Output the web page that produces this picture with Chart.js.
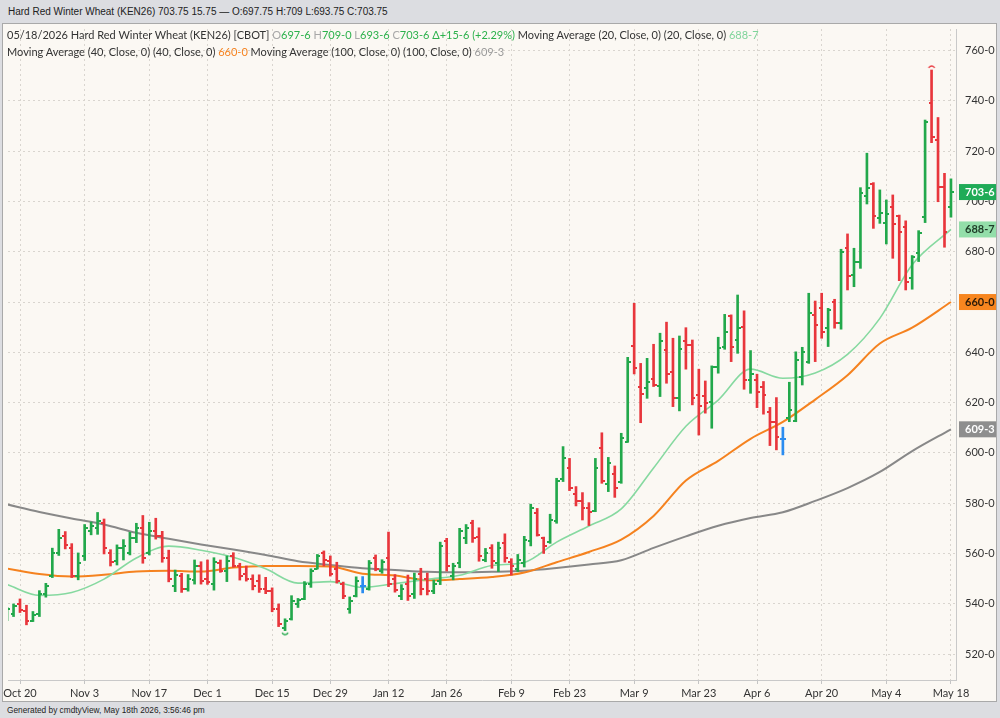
<!DOCTYPE html>
<html lang="en">
<head>
<meta charset="utf-8">
<title>Hard Red Winter Wheat (KEN26)</title>
<script src="https://cdn.jsdelivr.net/npm/chart.js@4.4.1/dist/chart.umd.min.js"></script>
<style>
  html, body { margin: 0; padding: 0; }
  body { width: 1000px; height: 718px; background: #dcdde1; position: relative; overflow: hidden; }
  #head { position: absolute; left: 8px; top: 6px; font: 10px "Liberation Sans", Arial, sans-serif; color: #222; white-space: nowrap; }
  #frame { position: absolute; left: 2px; top: 23px; width: 995px; height: 679px; background: #fbf8f3; border: 1px solid #a9a9a9; box-sizing: border-box; }
  #chart { position: absolute; left: 3px; top: 24px; }
  #legend { position: absolute; left: 7px; top: 26px; font: 11px Lato, sans-serif; line-height: 17px; color: #333; white-space: nowrap; }
  #foot { position: absolute; left: 7px; top: 705px; font: 8.3px "Liberation Sans", Arial, sans-serif; color: #222; white-space: nowrap; }
  .lbl { color: #a8a8a8; }
  .up { color: #2cb14c; }
  .m20 { color: #7fd49a; }
  .m40 { color: #f5821f; }
  .m100 { color: #9a9a9a; }
</style>
</head>
<body>
<div id="head"></div>
<div id="frame"></div>
<canvas id="chart" width="993" height="677"></canvas>
<div id="legend"><div id="l1"></div><div id="l2"></div></div>
<div id="foot">Generated by cmdtyView, May 18th 2026, 3:56:46 pm</div>
<script>
// session index 0 = Oct 20; two sessions before that are on screen
const FIRST_BAR = -2;

const opens = [
  535, 536, 540, 537, 533, 536, 544, 551, 560, 567, 562, 551, 559, 569, 570, 572, 560, 557, 562, 560,
  566, 570, 560, 569, 567, 558, 547, 551, 546, 549.5, 555, 550, 548, 556, 553, 559, 555, 552, 550, 549,
  546, 545, 538, 530.5, 534, 540, 542, 548, 554, 560, 557, 554, 548, 538, 543, 547, 546, 558, 553, 558,
  550, 543, 548, 544, 552, 550, 545, 549, 565, 551, 556, 566, 572, 566.5, 557.5, 562, 556, 564, 556.5, 554,
  556.3, 565, 576, 566, 564.5, 573, 589.5, 594, 583.5, 581, 578, 577, 602, 587.5, 591.5, 588.5, 604.5, 642.7, 626.4, 626,
  629.3, 626.6, 641, 632.3, 621.7, 644.5, 643, 623, 622.7, 620.4, 634.1, 642.3, 654.5, 644.9, 650, 629, 629, 626.4, 616.4, 612.4,
  605.5, 614, 612.8, 630, 636, 655, 657.5, 649.5, 660, 651.5, 681.4, 670.8, 676, 702, 707, 693.5, 691.6, 698, 694.2, 690,
  669.5, 679.4, 694, 739, 724.5, 705.9, 697.75
];
const highs = [
  538.6, 539.9, 541.9, 539.4, 536.9, 545.2, 548.1, 562.1, 569.6, 568.7, 563.9, 560.2, 571.5, 572.5, 576.3, 573.7, 561.5, 563.4, 565.5, 568.4,
  572.0, 575.1, 572.4, 574.0, 568.8, 561.3, 553.4, 552.1, 551.6, 557.4, 556.7, 557.4, 558.3, 557.4, 559.0, 560.3, 556.1, 555, 551.5, 551.5,
  550.5, 546.3, 539.9, 534, 543.2, 542.1, 548.8, 553.9, 559.6, 561, 559, 556.5, 548.6, 542.7, 550.7, 550.8, 557.2, 559.4, 557.5, 568.5,
  551.6, 547.6, 551.4, 552.2, 554.1, 552.2, 549.4, 564.5, 566.0, 556.1, 570.0, 571.5, 573.2, 570.2, 562, 563.5, 564.5, 567.8, 557.9, 559.6,
  566.8, 579.6, 577.9, 566.5, 575.6, 589.9, 602.5, 597.8, 586.6, 584.2, 580.2, 597.8, 608, 598.2, 594.8, 607.8, 638, 659.5, 635.6, 637.6,
  643.2, 647.6, 652.0, 645.6, 646.5, 649.8, 644.9, 633.3, 628.6, 634.6, 646.0, 655.1, 654.9, 662.8, 656.5, 640.7, 631.3, 628.4, 618.1, 622.0,
  610.2, 628.1, 640.2, 642, 663.5, 660.4, 663.5, 657.5, 661.1, 681, 687.1, 681.4, 705.5, 719.2, 707.5, 704.6, 700.6, 702.6, 694.6, 692.3,
  678.5, 688.4, 732.4, 752.3, 733.4, 711.2, 709
];
const lows = [
  533.3, 534.9, 536.5, 531.6, 532.9, 534.9, 542.6, 550.4, 559.2, 561.8, 550.4, 549.5, 557.2, 567.4, 567.6, 559.8, 555.0, 555.4, 557.4, 559.4,
  564.3, 556.1, 559.4, 565.7, 556.5, 548.7, 544.8, 544.5, 545.0, 547.8, 547.8, 547.7, 545.4, 552.5, 548.8, 554.5, 549.4, 549, 545.5, 544.5,
  544, 536.8, 530.9, 529.3, 533.5, 538.5, 541.6, 546.5, 553.8, 555, 551, 548.2, 542, 536.2, 542.7, 544.3, 545.4, 553.1, 552.1, 546.8,
  544.6, 541.6, 541.3, 542.1, 543.5, 543.5, 544.0, 547.6, 553, 549.5, 554.3, 563.9, 564.4, 556.9, 556.7, 554.1, 552.8, 556.5, 551.4, 552.8,
  554.6, 563, 566.9, 560, 564, 572, 588.6, 585.0, 578.9, 573.3, 571.1, 576.6, 587.9, 584.6, 582.3, 587.9, 604.2, 631.4, 612.0, 621.7,
  626.4, 622.4, 627.7, 618.4, 616.7, 633.3, 619.1, 607.1, 615.8, 609.8, 631.7, 641.2, 636.3, 639.6, 625.3, 623.7, 618.0, 615.4, 602.9, 601.2,
  599.2, 612.4, 612.4, 627, 635.6, 636.3, 645.6, 642.3, 649.6, 649.2, 664.8, 666.1, 673.4, 699, 689.3, 691.3, 683.1, 677.4, 668.5, 664.8,
  665.1, 676.1, 691.6, 723.4, 699.9, 681.8, 693.75
];
const closes = [
  538, 539, 537.5, 533, 535.5, 544, 547, 560, 566, 563.5, 551, 556, 570, 571, 573, 562, 556.5, 562, 563, 566,
  570, 558, 569, 567, 558, 550, 551.5, 546, 550, 555, 549, 548.5, 556.5, 553, 557, 555, 551, 550, 547, 546,
  545, 538, 532, 533, 541, 541.5, 548, 553, 559, 557.5, 552, 549, 543, 541, 549, 547, 556, 554, 556.5, 548,
  545.5, 546, 543, 550, 546, 545, 548, 563, 555, 555, 569, 570, 566, 559, 560, 557, 562, 558, 555, 557.5,
  565.5, 578, 567.5, 563, 573.5, 589, 598, 586, 581, 578, 576.5, 594, 589, 596, 586, 605.8, 636.3, 633.7, 623.5, 628,
  627, 644.5, 631.3, 621.7, 641.2, 642.9, 621.7, 618.7, 620, 634.1, 641.6, 648.2, 642.3, 649.6, 629, 631.4, 624.4, 623, 612.4, 606.5,
  605.5, 617, 637, 640, 655.5, 651, 648, 657, 651.5, 680, 670.4, 676, 703.3, 705.2, 694.2, 695.5, 695, 691, 688, 668,
  678, 687.4, 731.8, 725.8, 705.9, 688, 703.75
];

// moving averages at every fifth session
const maIndex = [-2, 3, 8, 13, 18, 23, 28, 33, 38, 43, 48, 53, 58, 63, 68, 73, 78, 83, 88, 93, 98, 103, 108, 113, 118, 123, 128, 133, 138, 144];
const ma20  = [547.6, 543.3, 544.5, 549.8, 558.2, 562.9, 561.3, 558.5, 553.9, 548.2, 548.8, 546.5, 548.0, 549.7, 551.3, 555.2, 556.4, 564.5, 570.9, 577.7, 594.0, 610.6, 621.0, 633.3, 629.7, 631.8, 639.2, 653.5, 674.8, 688.875];
const ma40  = [554.0, 551.8, 550.8, 551.5, 552.8, 553.1, 552.8, 554.4, 555.0, 555.0, 554.8, 551.9, 551.2, 549.3, 549.8, 550.6, 552.4, 556.5, 560.6, 565.5, 574.9, 589.0, 596.8, 605.6, 612.3, 621.2, 630.9, 643.5, 649.8, 660.0];
const ma100 = [579.5, 576.5, 573.9, 571.5, 568.2, 565.8, 563.6, 561.6, 559.4, 556.9, 555.4, 554.1, 553.4, 552.7, 552.5, 552.7, 553.1, 554.2, 555.6, 557.3, 562.2, 566.8, 571.0, 574.1, 576.4, 580.9, 586.0, 592.4, 600.7, 609.375];

const xTickIndex  = [0, 10, 20, 29, 39, 48, 57, 66, 76, 85, 95, 105, 114, 124, 134, 144];
const xTickLabels = ['Oct 20', 'Nov 3', 'Nov 17', 'Dec 1', 'Dec 15', 'Dec 29', 'Jan 12', 'Jan 26', 'Feb 9', 'Feb 23', 'Mar 9', 'Mar 23', 'Apr 6', 'Apr 20', 'May 4', 'May 18'];

const COLORS = { up: '#22a84b', down: '#e8363c', flat: '#2a8cf0' };

// grain prices: whole cents and eighths, 703.75 -> "703-6"
function eighths(v) {
  const whole = Math.floor(v + 1e-9);
  return whole + '-' + Math.round((v - whole) * 8);
}
function tone(k) {
  if (closes[k] > opens[k]) return 'up';
  if (closes[k] < opens[k]) return 'down';
  return 'flat';
}

function tickImage(color, side) {
  const c = document.createElement('canvas');
  c.width = 6; c.height = 2;
  const g = c.getContext('2d');
  g.fillStyle = color;
  g.fillRect(side === 'left' ? 0 : 3, 0, 3, 2);
  return c;
}
function markImage(color, above) {
  const c = document.createElement('canvas');
  c.width = 10; c.height = 14;
  const g = c.getContext('2d');
  g.strokeStyle = color;
  g.lineWidth = 1.4;
  g.beginPath();
  if (above) g.arc(5, 6, 3, Math.PI * 1.1, Math.PI * 1.9);
  else g.arc(5, 8, 3, Math.PI * 0.1, Math.PI * 0.9);
  g.stroke();
  return c;
}
const openImg = {}, closeImg = {};
for (const t in COLORS) {
  openImg[t] = tickImage(COLORS[t], 'left');
  closeImg[t] = tickImage(COLORS[t], 'right');
}

const last = closes.length - 1;
const hiK = highs.indexOf(Math.max(...highs));
const loK = lows.indexOf(Math.min(...lows));
const chg = closes[last] - closes[last - 1];

document.getElementById('head').textContent =
  'Hard Red Winter Wheat (KEN26) ' + closes[last] + ' ' + chg + ' \u2014 O:' + opens[last] +
  ' H:' + highs[last] + ' L:' + lows[last] + ' C:' + closes[last];
document.getElementById('l1').innerHTML =
  '05/18/2026 Hard Red Winter Wheat (KEN26) [CBOT] ' +
  '<span class="lbl">O</span><span class="up">' + eighths(opens[last]) + '</span> ' +
  '<span class="lbl">H</span><span class="up">' + eighths(highs[last]) + '</span> ' +
  '<span class="lbl">L</span><span class="up">' + eighths(lows[last]) + '</span> ' +
  '<span class="lbl">C</span><span class="up">' + eighths(closes[last]) + '</span> ' +
  '<span class="up">\u0394+' + eighths(chg) + ' (+' + (chg / closes[last - 1] * 100).toFixed(2) + '%)</span> ' +
  'Moving Average (20, Close, 0) (20, Close, 0) <span class="m20">' + eighths(ma20[ma20.length - 1]) + '</span>';
document.getElementById('l2').innerHTML =
  'Moving Average (40, Close, 0) (40, Close, 0) <span class="m40">' + eighths(ma40[ma40.length - 1]) + '</span> ' +
  'Moving Average (100, Close, 0) (100, Close, 0) <span class="m100">' + eighths(ma100[ma100.length - 1]) + '</span>';

const sessions = opens.map((o, k) => FIRST_BAR + k);
const maLine = (vals, color, width) => ({
  type: 'line',
  data: maIndex.map((x, k) => ({ x, y: vals[k] })),
  borderColor: color,
  borderWidth: width,
  pointRadius: 0,
  cubicInterpolationMode: 'monotone',
  order: 3
});

const priceTags = {
  id: 'priceTags',
  afterDraw(chart) {
    const { ctx, chartArea, scales } = chart;
    const tags = [
      [closes[last], '#1fab57', '#ffffff'],
      [ma20[ma20.length - 1], '#93dea9', '#1f3d28'],
      [ma40[ma40.length - 1], '#f7861f', '#2a1a08'],
      [ma100[ma100.length - 1], '#8e8e8e', '#ffffff']
    ];
    ctx.save();
    ctx.font = 'bold 11px Lato';
    ctx.textBaseline = 'middle';
    for (const [v, bg, fg] of tags) {
      const y = scales.y.getPixelForValue(v);
      ctx.fillStyle = bg;
      ctx.fillRect(chartArea.right + 3, y - 8, 37, 16);
      ctx.fillStyle = fg;
      ctx.fillText(eighths(v), chartArea.right + 9, y + 0.5);
    }
    ctx.restore();
  }
};

const noPad = s => { s.paddingTop = 0; s.paddingBottom = 0; s.paddingLeft = 0; s.paddingRight = 0; };

Chart.defaults.font.family = 'Lato';
Chart.defaults.font.size = 11;
Chart.defaults.color = '#333';

const chart = new Chart(document.getElementById('chart'), {
  type: 'bar',
  data: {
    datasets: [
      maLine(ma20, '#86d9a0', 1.6),
      maLine(ma40, '#f5821f', 2),
      maLine(ma100, '#888888', 2),
      {
        type: 'bar',
        data: sessions.map((x, k) => ({ x, y: [lows[k], highs[k]] })),
        backgroundColor: ctx => COLORS[tone(ctx.dataIndex)],
        barThickness: 2,
        borderWidth: 0,
        order: 2
      },
      {
        type: 'scatter',
        data: sessions.map((x, k) => ({ x, y: opens[k] })),
        pointStyle: ctx => openImg[tone(ctx.dataIndex)],
        pointRadius: 1,
        order: 1
      },
      {
        type: 'scatter',
        data: sessions.map((x, k) => ({ x, y: closes[k] })),
        pointStyle: ctx => closeImg[tone(ctx.dataIndex)],
        pointRadius: 1,
        order: 1
      },
      {
        type: 'scatter',
        data: [{ x: sessions[hiK], y: highs[hiK] }],
        pointStyle: markImage(COLORS[tone(hiK)], true),
        pointRadius: 1,
        order: 0
      },
      {
        type: 'scatter',
        data: [{ x: sessions[loK], y: lows[loK] }],
        pointStyle: markImage(COLORS[tone(loK)], false),
        pointRadius: 1,
        order: 0
      }
    ]
  },
  options: {
    responsive: false,
    animation: false,
    layout: { padding: { left: 1, top: 1, right: 0, bottom: 0 } },
    plugins: { legend: { display: false }, tooltip: { enabled: false } },
    scales: {
      x: {
        type: 'linear',
        offset: false,
        min: -2.475,
        max: 144.78,
        afterBuildTicks: s => { s.ticks = xTickIndex.map(v => ({ value: v })); },
        afterFit: s => { s.height = 21; noPad(s); },
        ticks: {
          autoSkip: false,
          maxRotation: 0,
          padding: 3,
          callback: (v, i) => xTickLabels[i]
        },
        grid: { offset: false, color: '#d9d5cf', tickColor: '#c4c4c4', tickLength: 4 },
        border: { color: '#c9c9c9', dash: [2, 3] }
      },
      y: {
        position: 'right',
        min: 509.66,
        max: 770.2,
        afterFit: s => { s.width = 40; noPad(s); },
        ticks: { stepSize: 20, includeBounds: false, padding: 9, callback: v => eighths(v) },
        grid: { color: '#d9d5cf', drawTicks: false },
        border: { color: '#c9c9c9', dash: [2, 3] }
      }
    }
  },
  plugins: [priceTags]
});

// match the reference scale whatever box the layout ended up with:
// 520 sits 630px down the canvas at 2.514px per cent, Oct 20 is 17px in at 6.465px per session
const area = chart.chartArea;
const PX_PER_CENT = 2.514, Y_520 = 630, PX_PER_SESSION = 6.465, X_OCT20 = 17;
chart.options.scales.y.min = 520 - (area.bottom - Y_520) / PX_PER_CENT;
chart.options.scales.y.max = 520 + (Y_520 - area.top) / PX_PER_CENT;
chart.options.scales.x.min = (area.left - X_OCT20) / PX_PER_SESSION;
chart.options.scales.x.max = (area.right - X_OCT20) / PX_PER_SESSION;
chart.update();
</script>
</body>
</html>
